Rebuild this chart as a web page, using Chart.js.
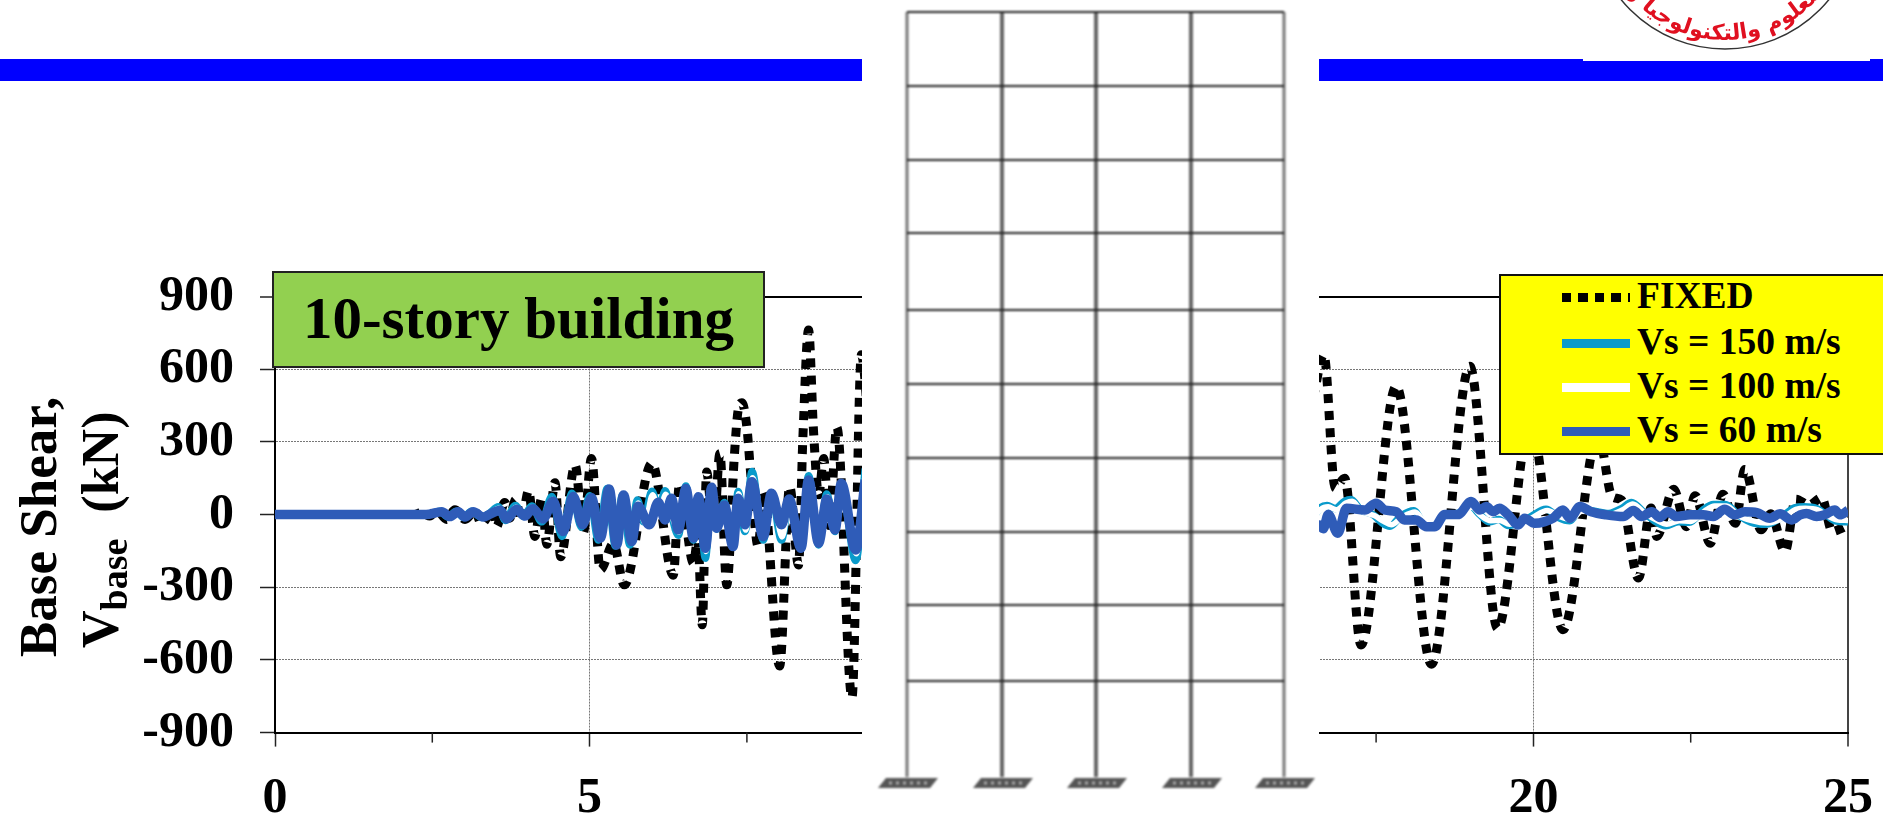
<!DOCTYPE html>
<html>
<head>
<meta charset="utf-8">
<title>Base shear, 10-story building</title>
<script src="https://cdn.jsdelivr.net/npm/chart.js@4/dist/chart.umd.min.js"></script>
<style>
    html, body { margin: 0; padding: 0; background: #fff; overflow: hidden; }
    #page { position: relative; width: 1883px; height: 815px; font-family: "Liberation Serif", serif; font-weight: bold; color: #000; }
    #graph { position: absolute; left: 0; top: 0; }
    .bar { position: absolute; background: #0000ff; top: 59px; height: 22px; }
    #panel { position: absolute; left: 862px; top: 0; width: 457px; height: 815px; background: #fff; }
    #panel svg { filter: blur(1px); }
    #badge { position: absolute; left: 272px; top: 271px; width: 489px; height: 93px; background: #92d050; border: 2px solid #222; font-size: 59px; line-height: 91px; text-align: center; white-space: nowrap; }
    #legend { position: absolute; left: 1499px; top: 274px; width: 390px; height: 177px; background: #ffff00; border: 2px solid #111; }
    .row { position: absolute; left: 136px; font-size: 37.5px; line-height: 44px; white-space: pre; }
    .key { position: absolute; left: 61px; width: 68px; height: 9px; }
    #ytitle1, #ytitle2 { position: absolute; white-space: pre; transform-origin: left top; transform: rotate(-90deg); line-height: 50px; }
    #ytitle1 { left: 13px; top: 657px; font-size: 53px; }
    #ytitle2 { left: 76px; top: 648px; font-size: 52px; }
    #ytitle2 sub { font-size: 38px; line-height: 0; vertical-align: -9px; }
    #logo { position: absolute; left: 1560px; top: 0; }
</style>
</head>
<body>
<div id="page">
    <canvas id="graph" width="1883" height="815"></canvas>

    <div class="bar" style="left:0;width:862px"></div>
    <div class="bar" style="left:1319px;width:564px"></div>
    <div style="position:absolute;left:1583px;top:59px;width:287px;height:2px;background:#fff"></div>

    <svg id="logo" width="323" height="60" viewBox="1560 0 323 60">
        <path id="seal" d="M 1600 -85 A 125 125 0 0 0 1850 -85" fill="none"/>
        <circle cx="1725" cy="-85" r="134" fill="none" stroke="#333" stroke-width="1.5"/>
        <text font-family="DejaVu Sans" font-size="22" fill="#e01020" direction="rtl">
            <textPath href="#seal" startOffset="50%" text-anchor="middle">للعلوم والتكنولوجيا و</textPath>
        </text>
    </svg>

    <div id="panel">
        <svg id="frame" width="457" height="815"></svg>
    </div>

    <div id="badge">10-story building</div>

    <div id="legend"></div>

    <div id="ytitle1">Base Shear,</div>
    <div id="ytitle2">V<sub>base</sub>  (kN)</div>
</div>

<script>
// time axis, s
var xTicks = [0, 5, 10, 15, 20, 25];
var xMinorTicks = [2.5, 7.5, 12.5, 17.5, 22.5];
var yTicks = [-900, -600, -300, 0, 300, 600, 900];

var seriesNames = ['FIXED', 'Vs = 150 m/s', 'Vs = 100 m/s', 'Vs = 60 m/s'];
var seriesColors = ['#000000', '#0a9bcb', '#ffffff', '#2f5cb8'];

// values, peak by peak. The null sits behind the frame drawing.
var fixedT = [0, 2.2, 2.33, 2.46, 2.57, 2.73, 2.86, 3.02, 3.18, 3.28, 3.47, 3.52, 3.65, 3.73, 3.82, 3.92, 4.03, 4.13, 4.24, 4.32, 4.45, 4.54, 4.77, 4.9, 5.03, 5.17, 5.38, 5.55, 5.99, 6.33, 6.43, 6.65, 6.72, 6.79, 6.86, 6.97, 7.07, 7.18, 7.3, 7.36, 7.42, 7.5, 7.56, 7.68, 7.76, 8.02, 8.18, 8.32, 8.39, 8.48, 8.56, 8.64, 8.72, 8.81, 8.93, 9.17, 9.32, 9.45,
    13,
    16.5, 16.67, 16.85, 17.0, 17.26, 17.82, 18.38, 18.99, 19.43, 19.95, 20.47, 21.03, 21.25, 21.4, 21.67, 21.87, 21.96, 22.23, 22.43, 22.57, 22.81, 23.01, 23.21, 23.36, 23.62, 23.77, 24.0, 24.17, 24.38, 24.58, 24.75, 24.87, 25];
var fixedV = [0, 0, 8, -6, 18, -20, 20, -20, 15, -38, 20, -50, 50, -15, 60, -25, 98, -90, 68, -122, 131, -174, 204, -75, 232, -228, -120, -290, 212, -250, 128, -200, -100, -455, 176, -80, 252, -290, 240, 430, 462, 360, 170, -132, 95, -625, 115, -208, 320, 762, 340, 82, 232, -45, 360, -755, 660, 300,
    null,
    480, 660, 110, 150, -538, 530, -618, 612, -470, 380, -475, 330, 75, 60, -262, 27, -90, 105, -50, 78, -118, 84, -36, 186, -63, 4, -152, 64, 40, 70, -70, -60, -44];

var vs150T = [0, 2.4, 2.62, 2.75, 2.88, 3.0, 3.12, 3.28, 3.4, 3.55, 3.66, 3.82, 3.95, 4.08, 4.24, 4.4, 4.56, 4.72, 4.87, 5.0, 5.14, 5.28, 5.41, 5.52, 5.64, 5.76, 5.86, 5.99, 6.1, 6.2, 6.31, 6.41, 6.53, 6.65, 6.73, 6.84, 6.94, 7.02, 7.14, 7.28, 7.36, 7.47, 7.58, 7.76, 7.89, 8.05, 8.17, 8.36, 8.48, 8.64, 8.77, 8.9, 9.0, 9.23, 9.38,
    13,
    16.5, 16.62, 16.72, 16.85, 17.0, 17.1, 17.25, 17.45, 17.6, 17.72, 17.9, 18.1, 18.25, 18.42, 18.6, 18.8, 19.0, 19.15, 19.3, 19.45, 19.6, 19.76, 19.95, 20.2, 20.4, 20.58, 20.75, 20.95, 21.2, 21.4, 21.56, 21.75, 21.95, 22.1, 22.3, 22.48, 22.7, 22.86, 23.05, 23.25, 23.45, 23.7, 23.95, 24.15, 24.3, 24.5, 24.65, 24.8, 25];
var vs150V = [0, 0, 14, -10, 14, -12, 14, -12, 4, 32, -24, 38, -8, 36, -30, 75, -90, 88, -52, 78, -105, 108, -130, 80, -125, 60, -30, 96, 20, 98, -10, -85, 118, -105, 70, -180, 115, -60, 50, -135, 95, -70, 178, -105, 90, -105, 55, -135, 160, -125, 85, -70, 120, -190, 190,
    null,
    -10, 30, 38, 25, 55, 62, 20, 0, -35, -48, -5, 16, -35, -45, -5, 5, 35, 0, -30, -20, -45, -35, -10, 22, -12, -25, 20, 15, 5, 25, 50, 10, -30, -46, -30, -32, 20, 42, 42, 0, -30, -40, -10, 28, 32, 25, 0, -26, -30];

var vs100T = [0, 2.4, 2.63, 2.76, 2.89, 3.01, 3.13, 3.29, 3.41, 3.56, 3.67, 3.83, 3.96, 4.09, 4.25, 4.41, 4.57, 4.73, 4.88, 5.01, 5.15, 5.29, 5.42, 5.53, 5.65, 5.77, 5.88, 6.0, 6.11, 6.21, 6.32, 6.42, 6.54, 6.66, 6.74, 6.85, 6.95, 7.03, 7.15, 7.29, 7.37, 7.48, 7.59, 7.77, 7.9, 8.06, 8.18, 8.37, 8.49, 8.65, 8.78, 8.91, 9.01, 9.24, 9.38,
    13,
    16.5, 16.62, 16.74, 16.87, 17.02, 17.12, 17.27, 17.47, 17.62, 17.74, 17.92, 18.12, 18.27, 18.44, 18.62, 18.82, 19.02, 19.17, 19.32, 19.47, 19.62, 19.78, 19.97, 20.22, 20.42, 20.6, 20.77, 20.97, 21.22, 21.42, 21.58, 21.77, 21.97, 22.12, 22.32, 22.5, 22.72, 22.88, 23.07, 23.27, 23.47, 23.72, 23.97, 24.17, 24.32, 24.52, 24.67, 24.82, 25];
var vs100V = [0, 0, 13, -9, 13, -11, 13, -11, 3, 26, -20, 30, -7, 30, -24, 62, -76, 80, -46, 72, -98, 104, -122, 70, -112, 48, -34, 82, 10, 84, -16, -72, 110, -90, 66, -152, 110, -58, 46, -118, 86, -64, 152, -96, 80, -92, 50, -124, 142, -112, 74, -62, 108, -162, 170,
    null,
    -18, 22, 32, 20, 48, 55, 14, -4, -28, -42, -9, 11, -29, -40, -9, 2, 30, -5, -25, -24, -40, -30, -14, 17, -8, -20, 14, 10, 1, 20, 44, 6, -25, -40, -25, -28, 15, 36, 36, -5, -25, -35, -14, 22, 26, 20, -5, -21, -24];

var vs60T = [0, 2.4, 2.65, 2.78, 2.91, 3.02, 3.15, 3.31, 3.42, 3.58, 3.68, 3.84, 3.97, 4.10, 4.26, 4.42, 4.58, 4.74, 4.89, 5.03, 5.17, 5.31, 5.43, 5.54, 5.67, 5.77, 5.95, 6.09, 6.20, 6.30, 6.41, 6.53, 6.65, 6.73, 6.84, 6.94, 7.02, 7.14, 7.28, 7.36, 7.47, 7.58, 7.76, 7.89, 8.05, 8.17, 8.36, 8.48, 8.64, 8.77, 8.90, 9.00, 9.23, 9.38,
    13,
    16.5, 16.6, 16.66, 16.74, 16.89, 17.03, 17.32, 17.5, 17.64, 17.82, 17.95, 18.14, 18.3, 18.43, 18.59, 18.8, 19.01, 19.15, 19.25, 19.36, 19.46, 19.6, 19.76, 19.86, 20.02, 20.18, 20.31, 20.47, 20.58, 20.74, 20.92, 21.16, 21.43, 21.59, 21.72, 21.88, 22.01, 22.14, 22.27, 22.49, 22.7, 22.86, 23.04, 23.2, 23.36, 23.55, 23.76, 23.92, 24.1, 24.24, 24.34, 24.5, 24.63, 24.79, 24.87, 25];
var vs60V = [0, 0, 12, -8, 12, -10, 12, -10, 2, 18, -18, 22, -6, 24, -18, 55, -70, 75, -42, 70, -97, 106, -125, 81, -111, 34, -42, 51, -22, 67, -63, 108, -97, 74, -139, 113, -56, 40, -132, 68, -42, 136, -91, 88, -42, 64, -139, 143, -118, 64, -63, 129, -146, 143,
    null,
    -50, -43, -58, 0, -77, 26, 19, 47, 19, 12, -22, -22, -50, -50, 0, 0, 54, 19, 33, 12, 26, -1, -43, -15, -36, -29, -15, 19, -15, 33, 12, -1, -8, 17, -8, 12, -12, 12, -8, -1, -1, -8, 22, -1, 12, 8, -15, 3, -22, -1, 5, -8, -1, 19, -1, 17];

// storey levels and column lines of the frame drawing, px
var storyY = [12, 86, 160, 233, 310, 384, 458, 532, 605, 681];
var columnX = [907, 1002, 1096, 1191, 1284];

function toPoints(t, v) {
    return t.map(function(x, i) {
        return { x: x, y: v[i] };
    });
}

function makeLine(i, t, v, width, dash) {
    return {
        label: seriesNames[i],
        data: toPoints(t, v),
        showLine: true,
        borderColor: seriesColors[i],
        borderWidth: width,
        borderDash: dash || [],
        cubicInterpolationMode: 'monotone',
        pointRadius: 0,
        spanGaps: false
    };
}

var axisFont = { family: 'Liberation Serif', size: 50, weight: 'bold' };

// the 2.5 s ticks are shorter than the labelled ones
var minorTickPlugin = {
    id: 'minorTicks',
    afterDraw: function(chart) {
        var ctx = chart.ctx;
        var scale = chart.scales.x;
        ctx.save();
        ctx.strokeStyle = '#222';
        ctx.lineWidth = 1.5;
        xMinorTicks.forEach(function(tick) {
            var px = scale.getPixelForValue(tick);
            ctx.beginPath();
            ctx.moveTo(px, chart.chartArea.bottom);
            ctx.lineTo(px, chart.chartArea.bottom + 10);
            ctx.stroke();
        });
        ctx.restore();
    }
};

var gridLine = function(edges) {
    return {
        color: function(c) {
            if (c.tick.value === 0 && edges === 'y') return 'rgba(0,0,0,0)';
            if (c.tick.value === 900) return '#000';
            if (c.tick.value === 25) return '#444';
            return '#777';
        },
        lineWidth: function(c) {
            return (c.tick.value === 900 || c.tick.value === 25) ? 2 : 1;
        },
        tickColor: '#222',
        tickWidth: 1.5,
        tickBorderDash: [],
        tickLength: edges === 'y' ? 15 : 14
    };
};

var gridDash = function(c) {
    return (c.tick.value === 900 || c.tick.value === 25) ? [] : [2, 1];
};

var chart = new Chart(document.getElementById('graph').getContext('2d'), {
    type: 'scatter',
    data: {
        datasets: [
            makeLine(3, vs60T, vs60V, 9.5),
            makeLine(2, vs100T, vs100V, 5.5),
            makeLine(1, vs150T, vs150V, 7.5),
            makeLine(0, fixedT, fixedV, 9, [9, 8])
        ]
    },
    options: {
        responsive: false,
        animation: false,
        layout: { padding: { top: 296.6, right: 35, left: 0, bottom: 0 } },
        plugins: { legend: { display: false }, title: { display: false }, tooltip: { enabled: false } },
        scales: {
            x: {
                type: 'linear',
                min: 0,
                max: 25,
                afterFit: function(s) { s.height = 82.4; s.paddingLeft = 0; s.paddingRight = 0; },
                afterBuildTicks: function(s) { s.ticks = xTicks.map(function(v) { return { value: v }; }); },
                ticks: { font: axisFont, color: '#000', padding: 22, maxRotation: 0, autoSkip: false },
                grid: gridLine('x'),
                border: { display: true, color: '#000', width: 2, dash: gridDash }
            },
            y: {
                type: 'linear',
                min: -900,
                max: 900,
                afterFit: function(s) { s.width = 275; s.paddingTop = 0; s.paddingBottom = 0; },
                afterBuildTicks: function(s) { s.ticks = yTicks.map(function(v) { return { value: v }; }); },
                ticks: { font: axisFont, color: '#000', padding: 26, autoSkip: false },
                grid: gridLine('y'),
                border: { display: true, color: '#000', width: 2, dash: gridDash }
            }
        }
    },
    plugins: [minorTickPlugin]
});

// legend keys and labels come from the series arrays
var legend = document.getElementById('legend');
var rowY = [0, 46, 90, 134];
seriesNames.forEach(function(name, i) {
    var row = document.createElement('div');
    row.className = 'row';
    row.style.top = (rowY[i] - 2) + 'px';
    row.textContent = name;
    legend.appendChild(row);
    var key = document.createElement('div');
    key.className = 'key';
    key.style.top = (rowY[i] + 17) + 'px';
    key.style.background = i === 0
        ? 'repeating-linear-gradient(90deg,#000 0,#000 9px,transparent 9px,transparent 16.5px)'
        : seriesColors[i];
    legend.appendChild(key);
});

// the frame elevation that sits over the middle of the plot
var frame = document.getElementById('frame');
var svgNS = 'http://www.w3.org/2000/svg';
function addLine(x1, y1, x2, y2, color, width, dash) {
    var l = document.createElementNS(svgNS, 'line');
    l.setAttribute('x1', x1 - 862);
    l.setAttribute('x2', x2 - 862);
    l.setAttribute('y1', y1);
    l.setAttribute('y2', y2);
    l.setAttribute('stroke', color);
    l.setAttribute('stroke-width', width);
    if (dash) l.setAttribute('stroke-dasharray', dash);
    frame.appendChild(l);
}
columnX.forEach(function(x, i) {
    var inner = i > 0 && i < columnX.length - 1;
    addLine(x, storyY[0], x, 777, inner ? '#666' : '#777', inner ? 4 : 3);
    var foot = document.createElementNS(svgNS, 'polygon');
    foot.setAttribute('points', [x - 29 - 862, 788, x - 21 - 862, 778, x + 31 - 862, 778, x + 23 - 862, 788].join(' '));
    foot.setAttribute('fill', '#555');
    frame.appendChild(foot);
    addLine(x - 18, 783, x + 22, 783, '#aaa', 3, '3 4');
});
storyY.forEach(function(y) {
    addLine(columnX[0], y, columnX[columnX.length - 1], y, '#222', 2);
});
</script>
</body>
</html>
